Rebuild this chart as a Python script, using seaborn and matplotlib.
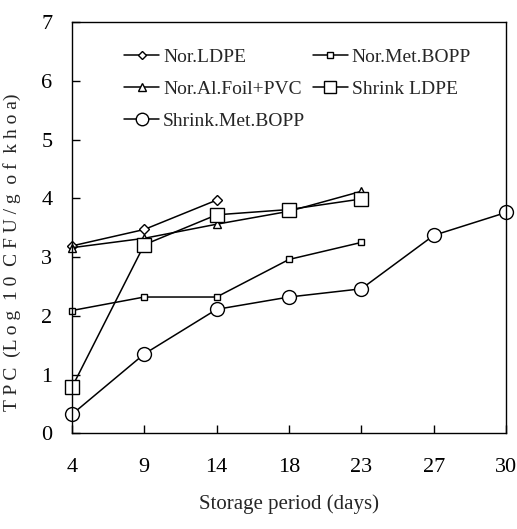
import numpy as np
import matplotlib
matplotlib.use('Agg')
import matplotlib.pyplot as plt
import seaborn as sns
import pandas as pd

# storage days (plotted as equally spaced categories)
days = [4, 9, 14, 18, 23, 27, 30]

# TPC values
nor_ldpe = [3.19, 3.47, 3.97]
nor_met_bopp = [2.09, 2.32, 2.32, 2.96, 3.25]
nor_al_foil_pvc = [3.16, 3.32, 3.56, 3.78, 4.12]
shrink_ldpe = [0.78, 3.21, 3.72, 3.81, 3.99]
shrink_met_bopp = [0.32, 1.35, 2.11, 2.32, 2.46, 3.37, 3.76]

series = [
    ('Nor.LDPE', nor_ldpe, 'D', 5),
    ('Nor.Met.BOPP', nor_met_bopp, 's', 5),
    ('Nor.Al.Foil+PVC', nor_al_foil_pvc, '^', 6),
    ('Shrink LDPE', shrink_ldpe, 's', 10),
    ('Shrink.Met.BOPP', shrink_met_bopp, 'o', 10),
]

sns.set_style('white')
plt.rcParams['font.family'] = ['Liberation Serif', 'DejaVu Serif']

fig = plt.figure(figsize=(5.17, 5.29), dpi=100)
ax = fig.add_axes([0.139, 0.181, 0.840, 0.777])

for name, vals, mk, ms in series:
    df = pd.DataFrame({'pos': np.arange(len(vals)), 'tpc': vals})
    sns.lineplot(data=df, x='pos', y='tpc', ax=ax, color='black', lw=1.1,
                 marker=mk, markersize=ms, markerfacecolor='white',
                 markeredgecolor='black', markeredgewidth=1.0,
                 label=name, clip_on=False)

ax.set_xlim(0, len(days) - 1)
ax.set_ylim(0, 7)
ax.set_xticks(range(len(days)))
ax.set_xticklabels([str(d) for d in days])
ax.set_yticks(range(8))
ax.tick_params(axis='both', direction='in', length=6, width=1, labelsize=16,
               colors='black', bottom=True, left=True)
ax.tick_params(axis='x', pad=18)
ax.tick_params(axis='y', pad=14)
for s in ax.spines.values():
    s.set_color('black')
    s.set_linewidth(1.0)

ax.set_xlabel('Storage period (days)', fontsize=15, labelpad=12)
ax.set_ylabel('T P C  (L o g  1 0  C F U / g  o f  k h o a)', fontsize=14)
ax.yaxis.set_label_coords(-0.118, 0.44)

# row-major legend order like the original
handles, labels = ax.get_legend_handles_labels()
order = [0, 2, 4, 1, 3]
ax.legend([handles[i] for i in order], [labels[i] for i in order],
          ncol=2, frameon=False, loc='upper left', bbox_to_anchor=(0.08, 0.98),
          fontsize=14, handlelength=1.8, handletextpad=0.2, columnspacing=0.4,
          labelspacing=0.75, markerscale=0.9)

fig.savefig('out.png', dpi=100)
